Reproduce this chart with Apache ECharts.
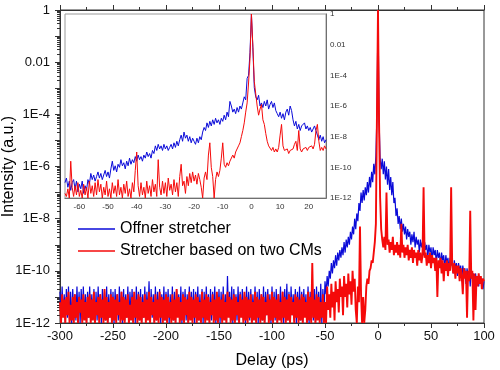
<!DOCTYPE html>
<html>
<head>
<meta charset="utf-8">
<script src="https://cdn.jsdelivr.net/npm/echarts@6/dist/echarts.min.js"></script>
<style>html,body{margin:0;padding:0;background:#fff}#c{width:500px;height:370px}</style>
</head>
<body>
<div id="c"></div>
<script>
// ---- data (log10 of intensity) ----
const seriesNames = ['Offner stretcher', 'Stretcher based on two CMs'];
const mainStart = -300, mainStep = 1;      // delay (ps) of first point, spacing
const offnerMainLog10 = [
 -10.8,-11.9,-10.6,-11.7,-10.9,-12.0,-10.7,-11.8,-10.6,-11.9,-10.8,-12.0,-10.7,-11.6,-10.9,-11.9,-10.6,-11.8,-10.8,-12.0,-10.7,-11.9,-10.6,-11.7,-10.9,
 -12.0,-10.8,-11.8,-10.6,-11.9,-10.9,-11.7,-10.7,-12.0,-10.8,-11.9,-10.6,-11.8,-10.9,-12.0,-10.7,-11.7,-10.8,-11.9,-10.6,-12.0,-10.9,-11.8,-10.7,-11.9,
 -10.8,-12.0,-10.7,-11.8,-10.9,-11.9,-10.6,-11.7,-10.8,-12.0,-10.7,-11.9,-10.9,-11.8,-10.6,-12.0,-10.8,-11.7,-10.7,-11.9,-10.9,-12.0,-10.6,-11.8,-10.8,
 -11.9,-10.7,-12.0,-10.9,-11.8,-10.6,-11.9,-10.8,-11.7,-10.4,-12.0,-10.7,-11.8,-10.9,-12.0,-10.6,-11.9,-10.8,-11.7,-10.7,-12.0,-10.9,-11.8,-10.6,-11.9,
 -10.8,-11.7,-10.7,-12.0,-10.9,-11.8,-10.6,-11.9,-10.8,-12.0,-10.7,-11.7,-10.9,-11.9,-10.6,-12.0,-10.8,-11.8,-10.7,-11.9,-10.9,-12.0,-10.6,-11.7,-10.8,
 -11.9,-10.7,-12.0,-10.8,-11.8,-10.6,-11.9,-10.9,-11.7,-10.7,-12.0,-10.8,-11.9,-10.6,-11.8,-10.9,-12.0,-10.7,-11.9,-10.8,-11.7,-10.6,-12.0,-10.9,-11.8,
 -10.7,-12.0,-10.8,-11.9,-10.6,-11.8,-10.9,-12.0,-10.2,-11.7,-10.8,-11.9,-10.6,-12.0,-10.7,-11.8,-10.9,-11.9,-10.6,-12.0,-10.8,-11.7,-10.7,-11.9,-10.9,
 -12.0,-10.6,-11.8,-10.8,-11.9,-10.7,-12.0,-10.9,-11.7,-10.6,-11.9,-10.8,-12.0,-10.7,-11.8,-10.9,-11.9,-10.6,-12.0,-10.8,-11.7,-10.7,-11.9,-10.9,-12.0,
 -10.6,-11.8,-10.8,-11.9,-10.7,-12.0,-10.9,-11.7,-10.6,-11.9,-10.8,-12.0,-10.7,-11.8,-10.5,-11.9,-10.8,-12.0,-10.6,-11.7,-10.9,-11.9,-10.7,-12.0,-10.8,
 -11.8,-10.6,-11.9,-10.8,-12.0,-10.7,-11.7,-10.9,-11.9,-10.6,-12.0,-10.8,-11.8,-10.5,-11.9,-10.7,-12.0,-10.6,-11.8,-10.8,-11.9,-10.5,-12.0,-10.7,-11.7,
 -10.4,-10.9,-10.2,-10.6,-10.0,-10.3,-9.7,-10.1,-9.6,-9.9,-9.4,-9.8,-9.3,-9.6,-9.2,-9.5,-9.1,-9.4,-8.9,-9.3,-8.8,-9.1,-8.7,-9.0,-8.5,
 -8.8,-8.3,-8.6,-8.0,-8.4,-7.8,-8.1,-7.4,-7.7,-7.0,-7.4,-6.9,-7.3,-6.8,-7.1,-6.6,-7.0,-6.4,-6.8,-6.2,-6.6,-5.9,-6.3,-5.6,-4.0,
 0,
 -4.2,-5.7,-6.1,-5.7,-6.3,-5.8,-6.5,-6.0,-6.7,-6.1,-6.9,-6.4,-7.1,-6.6,-7.4,-7.2,-7.9,-7.6,-8.2,-7.9,-8.4,-8.0,-8.5,-8.2,-8.6,
 -8.3,-8.8,-8.4,-8.7,-8.5,-9.0,-8.6,-8.9,-8.5,-9.1,-8.7,-9.0,-8.8,-9.3,-8.8,-9.1,-8.9,-9.4,-8.9,-9.2,-9.0,-9.5,-9.0,-9.3,-9.1,
 -9.6,-9.1,-9.4,-9.2,-9.7,-9.2,-9.5,-9.3,-9.8,-9.3,-9.6,-9.4,-9.9,-9.4,-9.7,-9.5,-10.0,-9.5,-9.8,-9.6,-10.1,-9.6,-9.9,-9.7,-10.2,
 -9.7,-10.0,-9.8,-10.4,-9.8,-10.1,-9.9,-10.5,-9.9,-10.2,-10.0,-10.6,-10.0,-10.3,-10.1,-10.7,-10.1,-10.4,-10.2,-10.6,-10.2,-10.5,-10.3,-10.7,-10.4
];
const cmMainLog10 = [
 -11.2,-12.0,-10.9,-11.8,-11.1,-12.0,-11.0,-11.7,-10.8,-12.0,-11.3,-11.9,-11.0,-12.0,-10.9,-11.8,-11.2,-12.0,-11.0,-11.6,-11.1,-12.0,-10.9,-11.9,-11.2,
 -12.0,-11.0,-11.8,-10.9,-12.0,-11.1,-11.9,-10.8,-12.0,-11.2,-11.7,-11.0,-12.0,-10.9,-11.8,-11.1,-12.0,-10.7,-11.9,-11.0,-12.0,-11.2,-11.8,-10.9,-12.0,
 -11.0,-11.9,-11.1,-12.0,-10.9,-11.7,-11.2,-12.0,-10.8,-11.9,-11.0,-12.0,-11.1,-11.8,-10.9,-12.0,-11.3,-11.9,-11.0,-12.0,-10.8,-11.8,-11.1,-12.0,-10.9,
 -11.9,-11.0,-12.0,-11.2,-11.8,-10.9,-12.0,-11.1,-11.9,-10.8,-12.0,-11.0,-11.7,-11.2,-12.0,-10.9,-11.9,-11.1,-12.0,-10.8,-11.8,-11.0,-12.0,-11.1,-11.9,
 -10.9,-12.0,-11.0,-11.8,-11.2,-12.0,-10.9,-11.9,-11.1,-12.0,-10.7,-11.8,-11.0,-12.0,-11.2,-11.9,-10.9,-12.0,-11.0,-11.7,-11.1,-12.0,-10.8,-11.9,-11.0,
 -12.0,-11.1,-11.8,-10.9,-12.0,-11.0,-11.9,-11.2,-12.0,-10.8,-11.8,-11.1,-12.0,-10.9,-11.9,-11.0,-12.0,-11.2,-11.7,-10.9,-12.0,-11.1,-11.9,-10.8,-12.0,
 -11.0,-11.8,-11.1,-12.0,-10.9,-11.9,-11.2,-12.0,-10.8,-11.8,-11.0,-12.0,-11.1,-11.9,-10.9,-12.0,-11.0,-11.7,-11.2,-12.0,-10.9,-11.8,-11.1,-12.0,-10.8,
 -11.9,-11.0,-12.0,-11.1,-11.8,-10.9,-12.0,-11.2,-11.9,-10.8,-12.0,-11.0,-11.8,-11.1,-12.0,-10.9,-11.9,-11.0,-12.0,-11.2,-11.7,-10.9,-12.0,-11.1,-11.9,
 -10.8,-12.0,-11.0,-11.8,-11.1,-12.0,-10.9,-11.9,-11.2,-12.0,-10.8,-11.8,-11.0,-12.0,-11.1,-11.9,-10.9,-12.0,-11.0,-11.7,-11.2,-12.0,-10.9,-11.8,-11.0,
 -12.0,-11.1,-11.9,-10.9,-12.0,-11.0,-11.8,-11.2,-12.0,-10.8,-11.9,-11.0,-12.0,-9.7,-11.8,-11.1,-12.0,-10.9,-11.9,-11.0,-12.0,-11.2,-11.8,-10.9,-12.0,
 -11.2,-12.0,-10.6,-11.5,-10.9,-11.8,-10.5,-11.4,-10.8,-11.9,-10.4,-11.2,-10.7,-11.6,-10.3,-11.0,-10.6,-11.7,-10.2,-11.0,-10.5,-11.4,-10.1,-10.9,-10.4,
 -11.3,-10.0,-10.8,-10.3,-11.5,-12.0,-10.6,-11.2,-8.3,-10.9,-12.0,-11.0,-12.0,-11.5,-10.6,-10.3,-10.5,-10.0,-9.9,-9.6,-9.7,-9.3,-8.9,-8.2,-4.1,
 0,
 -4.3,-7.2,-8.4,-8.8,-9.1,-8.7,-9.2,-7.0,-9.0,-8.8,-9.3,-8.9,-9.2,-8.7,-9.4,-9.0,-9.3,-8.9,-9.4,-9.0,-9.5,-8.2,-9.3,-9.0,-9.5,
 -9.1,-9.4,-9.0,-9.6,-9.2,-9.5,-9.1,-9.7,-9.2,-9.5,-9.3,-9.8,-9.2,-9.6,-9.3,-9.7,-9.4,-6.8,-9.5,-9.3,-9.8,-9.4,-9.7,-9.3,-9.9,
 -9.4,-9.7,-9.5,-10.0,-9.5,-11.0,-9.6,-9.9,-9.5,-10.1,-9.6,-10.4,-9.7,-10.0,-9.6,-10.2,-9.7,-10.0,-6.8,-9.8,-10.1,-9.7,-10.3,-9.8,-10.1,
 -9.8,-10.4,-9.9,-10.2,-10.9,-9.9,-10.3,-10.0,-11.8,-10.0,-10.4,-7.7,-10.3,-10.0,-11.9,-10.1,-11.5,-10.2,-10.6,-10.1,-10.5,-10.2,-10.7,-10.3,-10.4
];
const insetStart = -65, insetStep = 0.5;
const offnerInsetLog10 = [
 -11.0,-10.7,-11.3,-10.9,-11.5,-11.0,-10.8,-11.4,-10.9,-11.6,
 -11.1,-11.4,-10.9,-11.7,-11.2,-11.5,-10.8,-11.1,-10.4,-10.8,
 -10.5,-10.9,-10.6,-10.3,-10.7,-10.4,-10.8,-10.5,-10.2,-10.6,
 -10.3,-10.7,-10.1,-9.6,-10.2,-9.9,-10.3,-9.8,-10.0,-9.5,
 -9.9,-9.7,-10.1,-9.6,-9.9,-9.4,-9.8,-9.5,-9.7,-9.3,
 -9.6,-9.2,-9.5,-9.3,-9.6,-9.2,-9.4,-9.0,-9.3,-9.1,
 -9.4,-8.9,-9.1,-8.6,-8.9,-8.5,-8.8,-8.6,-8.9,-8.5,
 -8.8,-8.6,-8.9,-8.7,-8.5,-8.8,-8.4,-8.7,-8.3,-8.6,
 -8.2,-7.9,-8.3,-7.7,-8.1,-7.9,-8.3,-8.0,-8.4,-8.1,
 -8.3,-8.5,-8.1,-8.4,-8.0,-8.2,-7.7,-7.4,-7.6,-7.1,
 -7.4,-7.0,-7.3,-6.9,-7.2,-6.8,-7.1,-6.9,-7.2,-6.8,
 -7.0,-6.6,-6.9,-6.4,-6.7,-5.7,-6.0,-6.4,-6.2,-6.5,
 -6.1,-6.4,-6.0,-6.2,-5.8,-5.4,-5.6,-4.2,-4.0,-2.5,
 0,-2.2,-4.8,-5.4,-5.6,-5.3,-6.0,-5.8,-6.1,-5.7,
 -6.0,-5.6,-6.2,-5.9,-5.7,-6.1,-5.8,-6.3,-6.5,-6.7,
 -6.4,-6.8,-6.5,-6.9,-6.4,-6.2,-6.6,-6.0,-6.3,-6.9,
 -7.3,-7.0,-7.5,-7.2,-7.6,-7.3,-7.4,-7.1,-7.5,-7.3,
 -7.6,-7.4,-7.7,-7.5,-7.3,-7.6,-7.9,-8.2,-7.9,-8.3,
 -8.0,-8.4,-8.2
];
const cmInsetLog10 = [
 -11.7,-11.9,-11.4,-12.0,-9.6,-11.3,-11.9,-11.2,-11.8,-11.0,
 -11.9,-11.5,-12.0,-11.1,-11.8,-11.3,-12.0,-10.9,-11.7,-11.2,
 -11.9,-11.0,-11.8,-10.8,-11.6,-11.1,-12.0,-11.3,-11.8,-10.9,
 -11.9,-11.4,-12.0,-11.0,-11.7,-11.2,-11.9,-10.8,-11.8,-11.3,
 -12.0,-11.1,-11.7,-10.9,-11.9,-11.4,-12.0,-11.0,-11.6,-10.2,
 -9.0,-11.2,-11.9,-11.0,-11.8,-11.3,-12.0,-10.9,-11.7,-11.2,
 -11.9,-10.8,-11.6,-11.1,-11.9,-9.5,-11.3,-11.8,-10.9,-11.7,
 -11.0,-11.9,-10.7,-11.5,-11.1,-11.8,-10.8,-11.6,-11.0,-11.9,
 -10.6,-9.8,-11.2,-10.9,-11.7,-10.6,-11.2,-10.4,-11.0,-10.3,
 -10.9,-10.5,-11.1,-10.4,-10.8,-11.3,-12.0,-10.7,-10.3,-10.8,
 -9.2,-8.4,-10.0,-10.6,-12.0,-10.8,-10.3,-10.6,-10.2,-9.4,
 -8.4,-9.8,-10.0,-9.7,-9.9,-9.6,-9.5,-9.2,-9.4,-9.0,
 -8.9,-8.6,-8.4,-8.0,-7.6,-7.1,-6.4,-5.8,-4.5,-2.9,
 0,-2.1,-4.4,-5.2,-6.0,-6.6,-6.2,-5.9,-6.9,-7.2,
 -7.8,-8.3,-8.6,-8.7,-8.9,-8.7,-9.0,-8.8,-9.0,-8.7,
 -7.9,-7.2,-8.6,-8.9,-9.0,-8.8,-9.1,-8.9,-9.0,-8.8,
 -8.5,-8.3,-8.9,-7.6,-8.8,-9.0,-8.8,-8.9,-8.7,-8.9,
 -8.7,-8.8,-8.6,-8.8,-8.5,-7.6,-7.2,-8.3,-8.9,-8.7,
 -8.9,-8.6,-8.8
];
// tick labels
const yLabelExponents = [-12, -10, -8, -6, -4, -2, 0];
const yTickLabels = ['1E-12', '1E-10', '1E-8', '1E-6', '1E-4', '0.01', '1'];
const insetXTickLabels = [-60, -50, -40, -30, -20, -10, 0, 10, 20];
const insetXTicks = [-65, -60, -55, -50, -45, -40, -35, -30, -25, -20, -15, -10, -5, 0, 5, 10, 15, 20, 25];
const decadeMinorMultipliers = [2, 3, 4, 5, 6, 7, 8, 9];

// ---- helpers ----
function toPairs(start, step, logs) {
  return logs.map((v, i) => [start + i * step, Math.pow(10, v)]);
}
function logLabel(v) {
  const e = Math.round(Math.log10(v));
  const k = yLabelExponents.indexOf(e);
  return k >= 0 ? yTickLabels[k] : '';
}
const minorTickExp = [];
for (let n = -12; n < 0; n++) decadeMinorMultipliers.forEach(m => minorTickExp.push(n + Math.log10(m)));

const FONT = '"Liberation Sans", Arial, Helvetica, sans-serif';
const BLUE = '#0a0ad8', RED = '#f50a0a';

const chart = echarts.init(document.getElementById('c'), null, {renderer: 'canvas'});
chart.setOption({
  animation: false,
  backgroundColor: '#fff',
  textStyle: {fontFamily: FONT},
  grid: [
    {left: 60, top: 10, width: 424, height: 313, outerBoundsMode: 'none', containLabel: false,
     show: true, borderColor: '#333', borderWidth: 1, backgroundColor: 'transparent'},
    {left: 65, top: 14, width: 261, height: 184, outerBoundsMode: 'none', containLabel: false,
     show: true, borderColor: '#999', borderWidth: 1, backgroundColor: '#fff', z: 5}
  ],
  legend: {
    left: 73, top: 216, orient: 'vertical', icon: 'rect', itemWidth: 37, itemHeight: 1.5, itemGap: 6,
    textStyle: {fontSize: 16, color: '#000', fontFamily: FONT},
    data: seriesNames
  },
  xAxis: [
    {gridIndex: 0, type: 'value', min: -300, max: 100, interval: 50, position: 'bottom',
     name: 'Delay (ps)', nameLocation: 'middle', nameGap: 30, nameMoveOverlap: false,
     nameTextStyle: {fontSize: 16, color: '#000', fontFamily: FONT},
     axisLine: {show: true, onZero: false, lineStyle: {color: '#333', width: 1}},
     axisTick: {show: true, inside: false, length: 5, lineStyle: {color: '#333'}},
     minorTick: {show: true, splitNumber: 2, length: 3, lineStyle: {color: '#333'}},
     axisLabel: {fontSize: 13, color: '#111', margin: 7, fontFamily: FONT},
     splitLine: {show: false}},
    {gridIndex: 0, type: 'value', min: -300, max: 100, interval: 50, position: 'top',
     axisLine: {show: true, onZero: false, lineStyle: {color: '#333', width: 1}},
     axisTick: {show: true, inside: false, length: 5, lineStyle: {color: '#333'}},
     minorTick: {show: true, splitNumber: 2, length: 3, lineStyle: {color: '#333'}},
     axisLabel: {show: false}, splitLine: {show: false}},
    {gridIndex: 1, type: 'value', min: -65, max: 26, position: 'bottom',
     axisLine: {show: true, onZero: false, lineStyle: {color: '#444', width: 1}},
     axisTick: {show: true, inside: true, length: 3, customValues: insetXTicks, lineStyle: {color: '#444'}},
     axisLabel: {fontSize: 8, color: '#333', margin: 5, customValues: insetXTickLabels, fontFamily: FONT},
     splitLine: {show: false}}
  ],
  yAxis: [
    {gridIndex: 0, type: 'log', logBase: 10, min: 1e-12, max: 1, interval: 1, position: 'left',
     name: 'Intensity (a.u.)', nameLocation: 'middle', nameGap: 43, nameMoveOverlap: false,
     nameTextStyle: {fontSize: 16, color: '#000', fontFamily: FONT},
     axisLine: {show: true, onZero: false, lineStyle: {color: '#333', width: 1}},
     axisTick: {show: true, inside: false, length: 5, lineStyle: {color: '#333'}},
     axisLabel: {fontSize: 13, color: '#111', margin: 10, interval: 0, formatter: logLabel, fontFamily: FONT},
     splitLine: {show: false}},
    {gridIndex: 0, type: 'value', min: -12, max: 0, position: 'left',
     axisLine: {show: false, onZero: false}, axisLabel: {show: false}, splitLine: {show: false},
     axisTick: {show: true, inside: false, length: 3, customValues: minorTickExp, lineStyle: {color: '#333'}}},
    {gridIndex: 1, type: 'log', logBase: 10, min: 1e-12, max: 1, interval: 1, position: 'right',
     axisLine: {show: true, onZero: false, lineStyle: {color: '#444', width: 1}},
     axisTick: {show: true, inside: true, length: 4, lineStyle: {color: '#444'}},
     axisLabel: {fontSize: 8, color: '#333', margin: 4, interval: 0, formatter: logLabel, fontFamily: FONT},
     splitLine: {show: false}},
    {gridIndex: 1, type: 'value', min: -12, max: 0, position: 'right',
     axisLine: {show: false, onZero: false}, axisLabel: {show: false}, splitLine: {show: false},
     axisTick: {show: true, inside: true, length: 2, customValues: minorTickExp, lineStyle: {color: '#444'}}}
  ],
  series: [
    {name: seriesNames[0], type: 'line', xAxisIndex: 0, yAxisIndex: 0, showSymbol: false, symbol: 'none',
     lineStyle: {color: BLUE, width: 1.2}, itemStyle: {color: BLUE}, data: toPairs(mainStart, mainStep, offnerMainLog10), z: 2},
    {name: seriesNames[1], type: 'line', xAxisIndex: 0, yAxisIndex: 0, showSymbol: false, symbol: 'none',
     lineStyle: {color: RED, width: 1.9}, itemStyle: {color: RED}, data: toPairs(mainStart, mainStep, cmMainLog10), z: 3},
    {name: seriesNames[0], type: 'line', xAxisIndex: 2, yAxisIndex: 2, showSymbol: false, symbol: 'none',
     lineStyle: {color: BLUE, width: 1}, itemStyle: {color: BLUE}, data: toPairs(insetStart, insetStep, offnerInsetLog10), z: 6},
    {name: seriesNames[1], type: 'line', xAxisIndex: 2, yAxisIndex: 2, showSymbol: false, symbol: 'none',
     lineStyle: {color: RED, width: 1}, itemStyle: {color: RED}, data: toPairs(insetStart, insetStep, cmInsetLog10), z: 7}
  ]
});
</script>
</body>
</html>
